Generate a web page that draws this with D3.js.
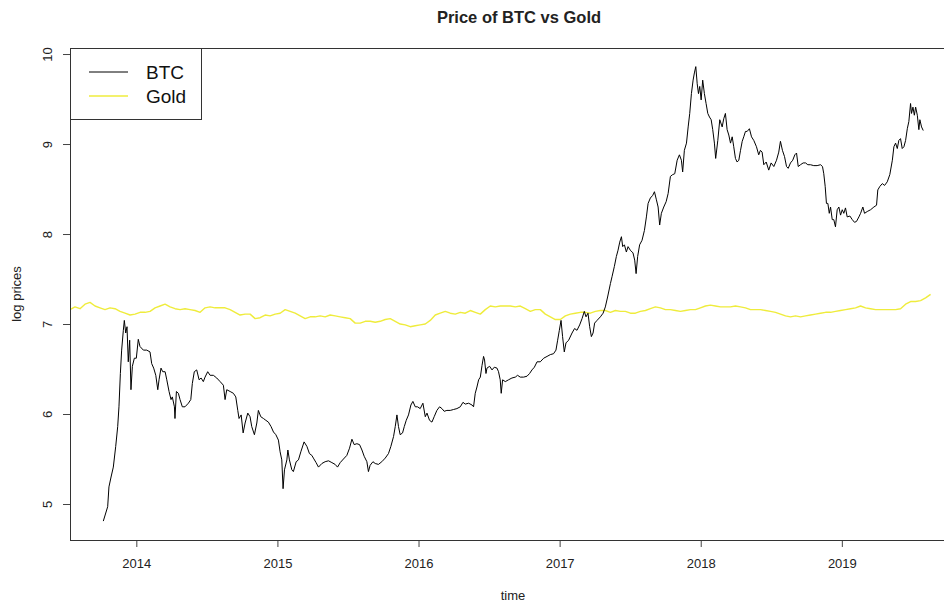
<!DOCTYPE html>
<html>
<head>
<meta charset="utf-8">
<script src="https://cdn.jsdelivr.net/npm/d3@7/dist/d3.min.js"></script>
<style>
  html, body { margin: 0; padding: 0; background: #fff; }
  svg { display: block; font-family: "Liberation Sans", Arial, sans-serif; }
</style>
</head>
<body>
<svg id="chart" width="944" height="605"></svg>
<script>
// Log closing prices of Bitcoin, [decimal year, ln(USD)]
const btc = [
  [2013.766,4.81],[2013.797,4.97],[2013.806,5.19],[2013.821,5.30],[2013.837,5.41],[2013.854,5.64],
  [2013.868,5.86],[2013.877,6.08],[2013.887,6.45],[2013.896,6.71],[2013.908,6.93],[2013.915,7.04],
  [2013.925,6.90],[2013.934,6.97],[2013.943,6.58],[2013.953,6.82],[2013.962,6.27],[2013.972,6.53],
  [2013.986,6.62],[2014.000,6.62],[2014.014,6.83],[2014.026,6.75],[2014.050,6.71],[2014.074,6.71],
  [2014.097,6.69],[2014.109,6.56],[2014.123,6.51],[2014.138,6.43],[2014.152,6.27],[2014.161,6.38],
  [2014.175,6.51],[2014.187,6.47],[2014.204,6.47],[2014.216,6.38],[2014.232,6.25],[2014.246,6.16],
  [2014.255,6.19],[2014.270,6.08],[2014.274,5.95],[2014.284,6.25],[2014.298,6.23],[2014.310,6.16],
  [2014.326,6.08],[2014.345,6.08],[2014.369,6.12],[2014.386,6.16],[2014.397,6.34],[2014.411,6.47],
  [2014.428,6.49],[2014.445,6.38],[2014.459,6.40],[2014.475,6.36],[2014.487,6.41],[2014.506,6.47],
  [2014.523,6.43],[2014.546,6.43],[2014.570,6.40],[2014.594,6.36],[2014.617,6.32],[2014.629,6.16],
  [2014.641,6.27],[2014.665,6.25],[2014.688,6.23],[2014.705,6.19],[2014.719,6.04],[2014.728,5.95],
  [2014.743,5.99],[2014.757,5.79],[2014.771,5.90],[2014.790,6.01],[2014.806,5.97],[2014.818,5.86],
  [2014.837,5.77],[2014.854,5.90],[2014.865,6.04],[2014.882,5.97],[2014.901,5.95],[2014.918,5.93],
  [2014.936,5.91],[2014.955,5.86],[2014.972,5.80],[2014.989,5.77],[2015.007,5.71],[2015.019,5.58],
  [2015.031,5.49],[2015.040,5.17],[2015.050,5.38],[2015.067,5.49],[2015.074,5.60],[2015.085,5.49],
  [2015.102,5.38],[2015.113,5.36],[2015.133,5.47],[2015.149,5.49],[2015.166,5.58],[2015.189,5.69],
  [2015.209,5.64],[2015.227,5.56],[2015.244,5.54],[2015.255,5.51],[2015.274,5.46],[2015.291,5.41],
  [2015.315,5.45],[2015.338,5.47],[2015.362,5.48],[2015.386,5.46],[2015.409,5.44],[2015.426,5.41],
  [2015.445,5.46],[2015.468,5.50],[2015.492,5.54],[2015.511,5.62],[2015.528,5.72],[2015.544,5.66],
  [2015.563,5.67],[2015.582,5.66],[2015.599,5.60],[2015.615,5.53],[2015.634,5.47],[2015.645,5.36],
  [2015.657,5.43],[2015.677,5.47],[2015.693,5.45],[2015.716,5.44],[2015.740,5.47],[2015.764,5.51],
  [2015.787,5.56],[2015.804,5.64],[2015.823,5.75],[2015.835,5.86],[2015.847,5.99],[2015.858,5.86],
  [2015.870,5.77],[2015.887,5.79],[2015.899,5.86],[2015.913,5.93],[2015.929,5.99],[2015.946,6.10],
  [2015.960,6.14],[2015.977,6.08],[2015.993,6.08],[2016.012,6.06],[2016.031,6.12],[2016.048,5.97],
  [2016.060,6.01],[2016.078,5.93],[2016.095,5.91],[2016.111,5.97],[2016.130,6.04],[2016.149,6.08],
  [2016.166,6.06],[2016.182,6.03],[2016.201,6.04],[2016.225,6.04],[2016.248,6.05],[2016.272,6.06],
  [2016.296,6.08],[2016.315,6.13],[2016.331,6.11],[2016.355,6.12],[2016.379,6.10],[2016.390,6.08],
  [2016.402,6.23],[2016.414,6.30],[2016.426,6.38],[2016.438,6.41],[2016.450,6.54],[2016.461,6.64],
  [2016.468,6.60],[2016.478,6.45],[2016.485,6.51],[2016.504,6.53],[2016.521,6.49],[2016.537,6.52],
  [2016.556,6.51],[2016.567,6.47],[2016.579,6.38],[2016.586,6.23],[2016.596,6.38],[2016.615,6.36],
  [2016.638,6.38],[2016.662,6.40],[2016.686,6.41],[2016.702,6.43],[2016.721,6.41],[2016.745,6.41],
  [2016.769,6.42],[2016.787,6.45],[2016.804,6.49],[2016.821,6.52],[2016.840,6.58],[2016.863,6.58],
  [2016.887,6.62],[2016.911,6.64],[2016.934,6.66],[2016.957,6.67],[2016.974,6.71],[2016.986,6.82],
  [2016.998,6.93],[2017.010,7.04],[2017.021,6.86],[2017.033,6.69],[2017.045,6.79],[2017.064,6.82],
  [2017.088,6.90],[2017.106,6.95],[2017.123,6.93],[2017.142,6.99],[2017.159,7.06],[2017.175,7.14],
  [2017.187,7.08],[2017.201,7.12],[2017.213,6.97],[2017.225,6.86],[2017.237,6.90],[2017.248,7.01],
  [2017.265,7.04],[2017.289,7.08],[2017.308,7.12],[2017.324,7.19],[2017.340,7.30],[2017.360,7.45],
  [2017.372,7.53],[2017.388,7.64],[2017.402,7.75],[2017.414,7.82],[2017.426,7.91],[2017.438,7.97],
  [2017.447,7.86],[2017.459,7.88],[2017.473,7.80],[2017.485,7.86],[2017.501,7.82],[2017.520,7.79],
  [2017.532,7.71],[2017.542,7.56],[2017.553,7.75],[2017.567,7.88],[2017.584,7.93],[2017.601,8.04],
  [2017.615,8.19],[2017.627,8.34],[2017.643,8.40],[2017.660,8.43],[2017.672,8.47],[2017.686,8.38],
  [2017.698,8.30],[2017.709,8.10],[2017.721,8.23],[2017.738,8.30],[2017.755,8.36],[2017.769,8.45],
  [2017.785,8.64],[2017.801,8.66],[2017.816,8.67],[2017.833,8.82],[2017.849,8.88],[2017.863,8.82],
  [2017.872,8.69],[2017.884,8.93],[2017.899,9.01],[2017.911,9.19],[2017.922,9.34],[2017.934,9.56],
  [2017.946,9.71],[2017.955,9.79],[2017.965,9.86],[2017.975,9.67],[2017.984,9.56],[2017.993,9.64],
  [2018.003,9.49],[2018.014,9.71],[2018.026,9.56],[2018.038,9.45],[2018.050,9.34],[2018.062,9.30],
  [2018.074,9.27],[2018.085,9.16],[2018.097,9.01],[2018.106,8.84],[2018.121,9.04],[2018.135,9.27],
  [2018.152,9.19],[2018.163,9.28],[2018.175,9.34],[2018.187,9.16],[2018.199,9.10],[2018.211,9.01],
  [2018.223,9.08],[2018.234,8.97],[2018.246,8.84],[2018.258,8.80],[2018.270,8.82],[2018.282,8.93],
  [2018.294,9.03],[2018.305,9.08],[2018.317,9.14],[2018.329,9.14],[2018.345,9.17],[2018.360,9.08],
  [2018.376,9.04],[2018.395,8.97],[2018.411,8.88],[2018.423,8.93],[2018.435,8.91],[2018.447,8.77],
  [2018.464,8.80],[2018.482,8.71],[2018.499,8.79],[2018.518,8.75],[2018.537,8.82],[2018.553,8.91],
  [2018.565,9.03],[2018.579,8.93],[2018.594,8.86],[2018.608,8.75],[2018.620,8.73],[2018.636,8.79],
  [2018.652,8.82],[2018.667,8.88],[2018.679,8.90],[2018.691,8.75],[2018.707,8.77],[2018.726,8.79],
  [2018.743,8.79],[2018.759,8.77],[2018.778,8.77],[2018.801,8.76],[2018.825,8.76],[2018.849,8.77],
  [2018.863,8.75],[2018.872,8.67],[2018.882,8.53],[2018.891,8.34],[2018.901,8.34],[2018.911,8.23],
  [2018.920,8.30],[2018.932,8.16],[2018.943,8.16],[2018.955,8.08],[2018.967,8.27],[2018.979,8.30],
  [2018.991,8.21],[2019.003,8.27],[2019.014,8.23],[2019.026,8.29],[2019.038,8.19],[2019.057,8.20],
  [2019.074,8.16],[2019.090,8.13],[2019.104,8.14],[2019.121,8.19],[2019.133,8.23],[2019.149,8.30],
  [2019.161,8.23],[2019.180,8.25],[2019.204,8.27],[2019.227,8.30],[2019.246,8.32],[2019.255,8.49],
  [2019.270,8.53],[2019.287,8.56],[2019.303,8.54],[2019.322,8.58],[2019.340,8.66],[2019.358,8.82],
  [2019.369,8.97],[2019.381,9.01],[2019.393,8.95],[2019.404,9.04],[2019.416,9.06],[2019.428,8.95],
  [2019.440,8.97],[2019.452,9.04],[2019.464,9.17],[2019.475,9.25],[2019.487,9.45],[2019.494,9.34],
  [2019.504,9.41],[2019.514,9.32],[2019.523,9.41],[2019.535,9.32],[2019.546,9.16],[2019.553,9.27],
  [2019.565,9.19],[2019.577,9.15]
];

// Log gold price, regular series starting at goldStart, one value every goldStep years
const goldStart = 2013.53;
const goldStep = 0.03546;
const goldLog = [
  7.16,7.19,7.17,7.22,7.24,7.20,7.18,7.16,7.18,7.17,7.14,7.12,7.10,7.11,7.13,7.13,7.14,7.18,7.20,7.22,
  7.19,7.17,7.16,7.17,7.16,7.15,7.13,7.18,7.19,7.18,7.18,7.18,7.16,7.13,7.10,7.11,7.11,7.06,7.07,7.10,
  7.09,7.11,7.12,7.16,7.14,7.12,7.09,7.06,7.08,7.08,7.09,7.08,7.10,7.09,7.08,7.07,7.06,7.01,7.01,7.03,
  7.03,7.02,7.03,7.05,7.06,7.03,7.00,6.99,6.97,6.98,6.99,7.00,7.04,7.10,7.12,7.14,7.12,7.11,7.13,7.12,
  7.15,7.13,7.11,7.16,7.20,7.19,7.20,7.20,7.20,7.19,7.20,7.17,7.14,7.16,7.16,7.11,7.08,7.05,7.05,7.09,
  7.11,7.12,7.13,7.13,7.12,7.14,7.15,7.15,7.13,7.15,7.14,7.14,7.12,7.12,7.14,7.15,7.17,7.19,7.18,7.16,
  7.16,7.15,7.14,7.15,7.16,7.16,7.18,7.20,7.21,7.20,7.19,7.19,7.19,7.20,7.19,7.18,7.16,7.16,7.16,7.15,
  7.14,7.13,7.11,7.09,7.08,7.09,7.08,7.09,7.10,7.11,7.12,7.13,7.13,7.14,7.15,7.16,7.17,7.18,7.20,7.18,
  7.17,7.16,7.16,7.16,7.16,7.16,7.17,7.22,7.25,7.25,7.26,7.29,7.33
];

const yearTicks = [2014, 2015, 2016, 2017, 2018, 2019];
const logTicks = [5, 6, 7, 8, 9, 10];
const seriesNames = ["BTC", "Gold"];
const seriesColors = ["#000000", "#efec3c"];

const gold = goldLog.map((v, i) => [goldStart + i * goldStep, v]);

const svg = d3.select("#chart");
const plot = { left: 70, top: 48, right: 966, bottom: 540 };

const x = d3.scaleLinear().domain([2013.53, 2019.88]).range([plot.left, plot.right]);
const y = d3.scaleLinear().domain([4.6, 10.067]).range([plot.bottom, plot.top]);

const textColor = "#222";

// title
svg.append("text")
  .attr("x", 519).attr("y", 23)
  .attr("text-anchor", "middle")
  .attr("font-size", 16.5).attr("font-weight", "bold")
  .attr("fill", textColor)
  .text("Price of BTC vs Gold");

// clip to the plotting region
svg.append("clipPath").attr("id", "clip")
  .append("rect")
  .attr("x", plot.left).attr("y", plot.top)
  .attr("width", plot.right - plot.left).attr("height", plot.bottom - plot.top);

const line = d3.line().x(d => x(d[0])).y(d => y(d[1]));

const lines = svg.append("g").attr("clip-path", "url(#clip)");
lines.append("path")
  .datum(gold)
  .attr("d", line)
  .attr("fill", "none")
  .attr("stroke", seriesColors[1])
  .attr("stroke-width", 1.4)
  .attr("stroke-linejoin", "round");
lines.append("path")
  .datum(btc)
  .attr("d", line)
  .attr("fill", "none")
  .attr("stroke", seriesColors[0])
  .attr("stroke-width", 1)
  .attr("stroke-linejoin", "round");

// x axis
const xAxis = svg.append("g")
  .attr("transform", `translate(0,${plot.bottom})`)
  .call(d3.axisBottom(x).tickValues(yearTicks).tickFormat(d3.format("d")).tickSize(7).tickPadding(0));
xAxis.select(".domain").remove();
xAxis.selectAll(".tick line").attr("stroke", "#444");
xAxis.selectAll(".tick text")
  .attr("y", 28).attr("dy", 0)
  .attr("font-size", 13)
  .attr("fill", textColor)
  .attr("font-family", "Liberation Sans, Arial, sans-serif");

// y axis with labels parallel to the axis
const yAxis = svg.append("g")
  .attr("transform", `translate(${plot.left},0)`)
  .call(d3.axisLeft(y).tickValues(logTicks).tickFormat(d3.format("d")).tickSize(7));
yAxis.select(".domain").remove();
yAxis.selectAll(".tick line").attr("stroke", "#444");
yAxis.selectAll(".tick text")
  .attr("x", null).attr("dy", null)
  .attr("text-anchor", "middle")
  .attr("transform", "translate(-18,0) rotate(-90)")
  .attr("font-size", 13)
  .attr("fill", textColor)
  .attr("font-family", "Liberation Sans, Arial, sans-serif");

// plot frame
svg.append("rect")
  .attr("x", plot.left + 0.5).attr("y", plot.top + 0.5)
  .attr("width", plot.right - plot.left).attr("height", plot.bottom - plot.top)
  .attr("fill", "none").attr("stroke", "#333").attr("stroke-width", 1);

// axis titles
svg.append("text")
  .attr("x", 513).attr("y", 600)
  .attr("text-anchor", "middle")
  .attr("font-size", 13).attr("fill", textColor)
  .text("time");
svg.append("text")
  .attr("transform", "translate(21,294) rotate(-90)")
  .attr("text-anchor", "middle")
  .attr("font-size", 13).attr("fill", textColor)
  .text("log prices");

// legend
const legend = svg.append("g");
legend.append("rect")
  .attr("x", plot.left + 0.5).attr("y", plot.top + 0.5)
  .attr("width", 131).attr("height", 71)
  .attr("fill", "#fff").attr("stroke", "#333");
seriesNames.forEach((name, i) => {
  const ly = 72 + i * 24;
  legend.append("line")
    .attr("x1", 89).attr("x2", 128).attr("y1", ly).attr("y2", ly)
    .attr("stroke", seriesColors[i]).attr("stroke-width", i === 0 ? 1 : 1.4);
  legend.append("text")
    .attr("x", 146).attr("y", ly).attr("dy", "0.36em")
    .attr("font-size", 19).attr("fill", "#111")
    .text(name);
});
</script>
</body>
</html>
